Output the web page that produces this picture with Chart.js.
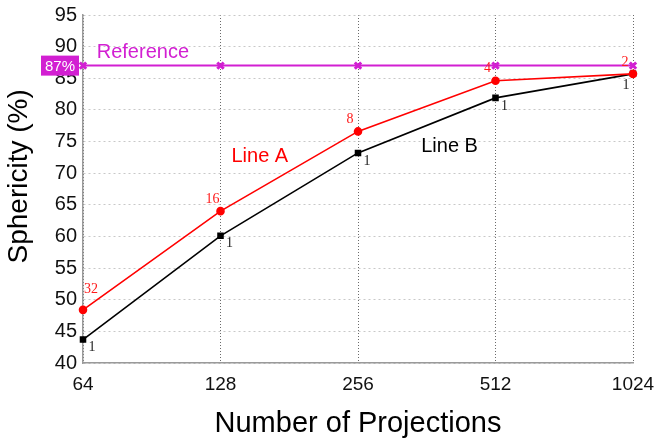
<!DOCTYPE html>
<html>
<head>
<meta charset="utf-8">
<script src="https://cdn.jsdelivr.net/npm/chart.js@4.4.1/dist/chart.umd.min.js"></script>
<style>
  html, body { margin: 0; padding: 0; background: #ffffff; }
  #wrap { width: 662px; height: 441px; }
</style>
</head>
<body>
<div id="wrap"><canvas id="c" width="662" height="441"></canvas></div>
<script>
// Projection counts along the x axis
const projections = ['64', '128', '256', '512', '1024'];
// Sphericity (%) for each method
const lineA = [48.4, 64.0, 76.6, 84.6, 85.7];
const lineB = [43.7, 60.1, 73.2, 81.9, 85.7];
const reference = [87, 87, 87, 87, 87];
// Numbers printed beside each point
const lineALabels = ['32', '16', '8', '4', '2'];
const lineBLabels = ['1', '1', '1', '1', '1'];
const referenceValue = 87;
const yTicks = [40, 45, 50, 55, 60, 65, 70, 75, 80, 85, 90, 95];

const SANS = '"Liberation Sans", Arial, Helvetica, sans-serif';
const SERIF = '"Liberation Serif", "Times New Roman", serif';
const MAGENTA = '#d21fd2';

// Draws point numbers, in-plot captions, the y title and the reference value badge
const annotate = {
  id: 'annotate',
  afterDatasetsDraw(chart) {
    const ctx = chart.ctx;
    const xs = chart.scales.x, ys = chart.scales.y;
    const last = projections.length - 1;
    ctx.save();
    ctx.textAlign = 'center';
    ctx.textBaseline = 'middle';

    // point numbers for Line A: above-left, first one above-right
    ctx.font = '14px ' + SERIF;
    ctx.fillStyle = '#ff1a1a';
    const metaA = chart.getDatasetMeta(1);
    metaA.data.forEach((p, i) => {
      const dx = i === 0 ? 8 : -8;
      const dy = i === 0 ? -21 : -12;
      ctx.fillText(lineALabels[i], p.x + dx, p.y + dy);
    });
    // point numbers for Line B: below-right, last one below-left
    ctx.fillStyle = '#222222';
    const metaB = chart.getDatasetMeta(2);
    metaB.data.forEach((p, i) => {
      const dx = i === last ? -7 : 9;
      const dy = i === last ? 11 : 8;
      ctx.fillText(lineBLabels[i], p.x + dx, p.y + dy);
    });

    // captions
    ctx.font = '20px ' + SANS;
    ctx.textAlign = 'left';
    ctx.fillStyle = MAGENTA;
    ctx.fillText('Reference', xs.getPixelForValue(0.1), ys.getPixelForValue(89.0));
    ctx.fillStyle = '#ff0000';
    ctx.fillText('Line A', xs.getPixelForValue(1.08), ys.getPixelForValue(72.6));
    ctx.fillStyle = '#000000';
    ctx.fillText('Line B', xs.getPixelForValue(2.46), ys.getPixelForValue(74.2));

    // y axis title, rotated, sitting a little above the axis middle
    ctx.save();
    ctx.translate(19, ys.getPixelForValue(69.5));
    ctx.rotate(-Math.PI / 2);
    ctx.textAlign = 'center';
    ctx.fillStyle = '#000000';
    ctx.font = '28px ' + SANS;
    ctx.fillText('Sphericity (%)', 0, 0);
    ctx.restore();

    // reference value badge on the y axis
    const yRef = ys.getPixelForValue(referenceValue);
    const left = chart.chartArea.left;
    ctx.fillStyle = MAGENTA;
    ctx.fillRect(left - 42, yRef - 10, 38, 20);
    ctx.fillStyle = '#ffffff';
    ctx.font = '15px ' + SANS;
    ctx.textAlign = 'center';
    ctx.fillText(referenceValue + '%', left - 23, yRef + 1);
    ctx.restore();
  }
};

new Chart(document.getElementById('c'), {
  type: 'line',
  data: {
    labels: projections,
    datasets: [
      {
        label: 'Reference',
        data: reference,
        borderColor: MAGENTA,
        backgroundColor: MAGENTA,
        borderWidth: 2,
        pointStyle: 'crossRot',
        pointRadius: 4.5,
        pointBorderWidth: 3,
        tension: 0,
        clip: false
      },
      {
        label: 'Line A',
        data: lineA,
        borderColor: '#ff0000',
        backgroundColor: '#ff0000',
        borderWidth: 1.6,
        pointStyle: 'circle',
        pointRadius: 3.5,
        tension: 0,
        clip: false
      },
      {
        label: 'Line B',
        data: lineB,
        borderColor: '#000000',
        backgroundColor: '#000000',
        borderWidth: 1.6,
        pointStyle: 'rect',
        pointRadius: 3.5,
        tension: 0,
        clip: false
      }
    ]
  },
  options: {
    responsive: false,
    animation: false,
    layout: { padding: { top: 15, right: 29, left: 0, bottom: 0 } },
    plugins: { legend: { display: false }, tooltip: { enabled: false } },
    scales: {
      x: {
        type: 'category',
        offset: false,
        afterFit(s) { s.height = 78; s.paddingLeft = 0; s.paddingRight = 0; },
        // border.dash sets the dash pattern of the grid lines
        border: { display: true, color: '#9a9a9a', width: 1.5, dash: [1, 2] },
        grid: {
          color: '#6a6a6a',
          lineWidth: 1,
          drawTicks: false
        },
        ticks: {
          color: '#111111',
          font: { family: SANS, size: 19 },
          padding: 10,
          maxRotation: 0
        },
        title: {
          display: true,
          text: 'Number of Projections',
          color: '#000000',
          font: { family: SANS, size: 29 },
          padding: { top: 4, bottom: 0 }
        }
      },
      y: {
        min: 40,
        max: 95,
        afterFit(s) { s.width = 83; s.paddingTop = 0; s.paddingBottom = 0; },
        afterBuildTicks(s) { s.ticks = yTicks.map(v => ({ value: v })); },
        border: { display: true, color: '#9a9a9a', width: 1.5, dash: [2, 3] },
        grid: {
          color: '#c8c8c8',
          lineWidth: 1,
          drawTicks: false
        },
        ticks: {
          color: '#111111',
          font: { family: SANS, size: 20 },
          padding: 6
        },
        title: { display: false }
      }
    }
  },
  plugins: [annotate]
});
</script>
</body>
</html>
